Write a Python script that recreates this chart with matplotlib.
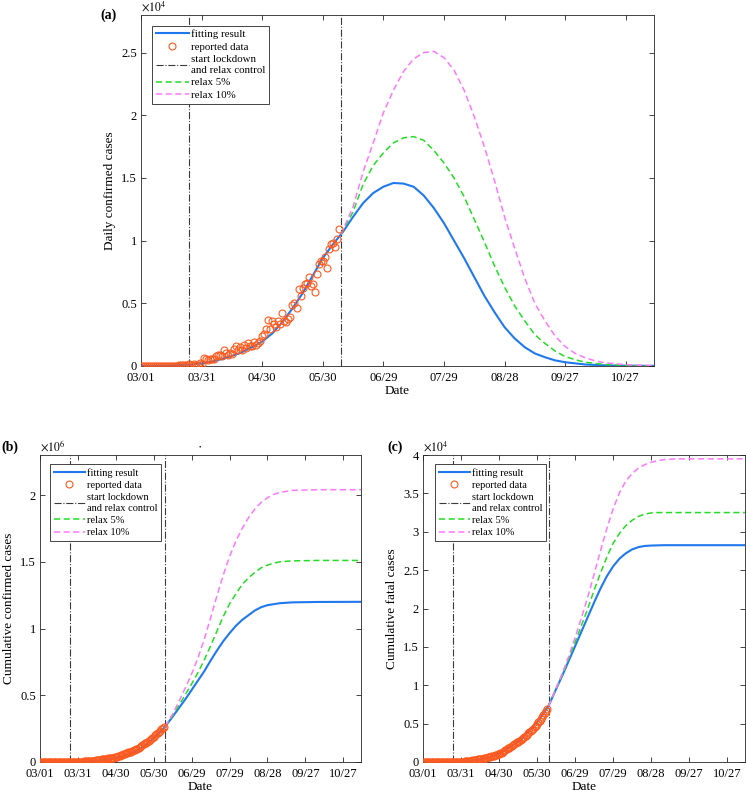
'''India COVID-19 fitting / relax-control scenarios, three panels
'''
import numpy as np
import matplotlib
matplotlib.use('Agg')
import matplotlib.pyplot as plt
from matplotlib.ticker import FuncFormatter

plt.rcParams['font.family'] = ['Liberation Serif', 'DejaVu Serif']
plt.rcParams['mathtext.fontset'] = 'stix'

# day 0 = 03/01
date_ticks = [0, 30, 60, 90, 120, 150, 180, 210, 240]
date_labels = ['03/01', '03/31', '04/30', '05/30', '06/29', '07/29', '08/28', '09/27', '10/27']
lockdown_day = 24
relax_day = 99

# reported daily confirmed cases, days 0..98
report_daily = [0, 2, 1, 22, 2, 1, 3, 5, 4, 13,
                6, 11, 9, 20, 11, 6, 23, 14, 38, 50,
                86, 66, 103, 37, 121, 70, 160, 100, 82, 227,
                146, 601, 545, 478, 524, 573, 565, 813, 871, 854,
                758, 1243, 1031, 886, 1061, 922, 1370, 1580, 1239, 1537,
                1292, 1667, 1408, 1835, 1607, 1568, 1902, 1705, 1801, 1993,
                2396, 2564, 2952, 3656, 2971, 3602, 3344, 3113, 3561, 3390,
                4213, 3604, 3524, 3763, 3942, 4864, 5050, 4630, 6147, 5553,
                6198, 6568, 6629, 7113, 6414, 6535, 5900, 7300, 8100, 8380,
                8380, 8700, 7800, 9300, 9700, 9800, 9500, 10100, 10900]
# reported cumulative deaths, days 0..98
report_fatal = [0, 0, 0, 0, 0, 0, 0, 0, 0, 0, 0,
                1, 2, 2, 2, 2, 3, 3, 4, 4,
                5, 7, 9, 10, 11, 16, 20, 24, 27, 32,
                35, 41, 56, 72, 83, 111, 124, 149, 169, 200,
                242, 273, 308, 331, 353, 392, 420, 452, 488, 519,
                559, 603, 652, 686, 723, 780, 825, 886, 937, 1008,
                1079, 1152, 1223, 1306, 1389, 1583, 1694, 1785, 1889, 1985,
                2109, 2206, 2293, 2415, 2549, 2649, 2752, 2872, 3029, 3163,
                3303, 3435, 3583, 3726, 3867, 4021, 4167, 4337, 4531, 4706,
                4971, 5164, 5394, 5598, 5815, 6075, 6348, 6642, 6929]

# panel (a) curves, values in 1e4
fit_days_a = list(range(0, 215, 5)) + [220, 230, 240, 254]
fit_daily = [0.0, 0.001, 0.003, 0.005, 0.008, 0.012, 0.02, 0.035, 0.055, 0.08,
             0.11, 0.15, 0.195, 0.26, 0.35, 0.46, 0.58, 0.72, 0.86, 0.97,
             1.07, 1.19, 1.30, 1.38, 1.43, 1.46, 1.455, 1.43, 1.36, 1.26,
             1.14, 1.00, 0.86, 0.71, 0.56, 0.43, 0.31, 0.22, 0.15, 0.10,
             0.07, 0.045, 0.03, 0.012, 0.005, 0.002, 0.001]
relax_days_a = [99] + list(range(105, 235, 5)) + [240, 254]
relax5_daily = [1.05, 1.23, 1.45, 1.60, 1.70, 1.78, 1.82, 1.83, 1.80, 1.72,
                1.62, 1.50, 1.35, 1.17, 0.99, 0.80, 0.63, 0.48, 0.36, 0.25,
                0.18, 0.12, 0.075, 0.05, 0.03, 0.02, 0.012, 0.005, 0.001]
relax10_daily = [1.05, 1.27, 1.55, 1.78, 2.02, 2.20, 2.35, 2.45, 2.50, 2.51,
                 2.46, 2.36, 2.20, 1.99, 1.75, 1.48, 1.19, 0.94, 0.70, 0.50,
                 0.36, 0.24, 0.155, 0.10, 0.065, 0.04, 0.025, 0.01, 0.003]

# panels (b), (c) curves
fit_days_bc = [0, 10, 20, 30, 40, 50, 60, 65, 70, 75, 80, 85, 90, 95, 99] + \
    list(range(105, 185, 5)) + [190, 200, 220, 254]
fit_cum = [0.0, 0.0003, 0.001, 0.002, 0.006, 0.014, 0.03, 0.042, 0.058, 0.078,
           0.104, 0.138, 0.18, 0.226, 0.265, 0.34, 0.405, 0.47, 0.54, 0.61,
           0.68, 0.76, 0.835, 0.905, 0.965, 1.02, 1.065, 1.10, 1.135, 1.16,
           1.175, 1.19, 1.196, 1.199, 1.2]  # 1e6
fit_fatal = [0.0, 0.0, 0.001, 0.004, 0.02, 0.05, 0.11, 0.16, 0.21, 0.27,
             0.34, 0.43, 0.52, 0.63, 0.73, 0.95, 1.13, 1.32, 1.51, 1.70,
             1.89, 2.08, 2.26, 2.42, 2.55, 2.65, 2.72, 2.77, 2.80, 2.815,
             2.82, 2.825, 2.825, 2.825, 2.825]  # 1e4
relax_days_bc = [99] + list(range(105, 190, 5)) + [190, 200, 220, 254]
relax5_cum = [0.265, 0.35, 0.425, 0.505, 0.585, 0.67, 0.765, 0.87, 0.98, 1.09,
              1.185, 1.26, 1.33, 1.38, 1.42, 1.455, 1.475, 1.49, 1.50, 1.507,
              1.51, 1.51]
relax10_cum = [0.265, 0.36, 0.455, 0.555, 0.66, 0.78, 0.92, 1.08, 1.245, 1.40,
               1.54, 1.655, 1.75, 1.83, 1.895, 1.945, 1.98, 2.005, 2.02, 2.035,
               2.04, 2.04]
relax5_fatal = [0.73, 0.95, 1.14, 1.35, 1.56, 1.78, 2.00, 2.24, 2.46, 2.67,
                2.85, 2.98, 3.08, 3.15, 3.20, 3.23, 3.245, 3.25, 3.25, 3.25,
                3.25, 3.25]
relax10_fatal = [0.73, 0.96, 1.16, 1.38, 1.62, 1.88, 2.15, 2.45, 2.75, 3.04,
                 3.30, 3.51, 3.66, 3.76, 3.83, 3.875, 3.905, 3.925, 3.94, 3.95,
                 3.95, 3.95]

c_fit = '#1f78ee'
c_data = '#ff5a1e'
c_5 = '#22dd22'
c_10 = '#ff77ff'
c_vline = '#3a3a3a'


def draw_panel(ax, data_days, data, fit_x, fit_y, r_x, r5, r10, scale,
               ymax, yticks, ylabel, expo, leg_x, leg_fs):
    ax.plot(fit_x, np.array(fit_y) * scale, color=c_fit, linewidth=1.5,
            label='fitting result', zorder=3)
    ax.plot(data_days, data, linestyle='none', marker='o', markersize=5,
            markerfacecolor='none', markeredgecolor=c_data, markeredgewidth=0.8,
            label='reported data', zorder=4)
    ax.axvline(lockdown_day, color=c_vline, linestyle='-.', linewidth=0.8,
               label='start lockdown\nand relax control', zorder=2)
    ax.axvline(relax_day, color=c_vline, linestyle='-.', linewidth=0.8, zorder=2)
    ax.plot(r_x, np.array(r5) * scale, color=c_5, linewidth=1.1,
            linestyle=(0, (4, 2.3)), label='relax 5%', zorder=3)
    ax.plot(r_x, np.array(r10) * scale, color=c_10, linewidth=1.1,
            linestyle=(0, (4, 2.3)), label='relax 10%', zorder=3)
    ax.set_xlim(0, 254)
    ax.set_ylim(0, ymax)
    ax.set_xticks(date_ticks)
    ax.set_xticklabels(date_labels)
    ax.set_yticks(yticks)
    ax.yaxis.set_major_formatter(FuncFormatter(lambda v, p: '%g' % (v / scale)))
    ax.tick_params(direction='in', top=True, right=True, length=3.5, width=0.6,
                   labelsize=9, colors='#262626', pad=3)
    ax.tick_params(axis='x', pad=4)
    ax.tick_params(labelcolor='k')
    for s in ax.spines.values():
        s.set_linewidth(0.6)
        s.set_color('#262626')
    ax.set_xlabel('Date', fontsize=9.5, labelpad=1)
    ax.set_ylabel(ylabel, fontsize=9.5, labelpad=4)
    ax.text(0.0, 1.004, r'$\times10^{%d}$' % expo, transform=ax.transAxes,
            fontsize=8.5, ha='left', va='bottom')
    leg = ax.legend(loc='upper left', bbox_to_anchor=(leg_x, 0.97),
                    borderaxespad=0, fontsize=leg_fs, numpoints=1,
                    handlelength=3.0, handletextpad=0.2, labelspacing=0.3,
                    borderpad=0.35, fancybox=False, framealpha=1)
    leg.get_frame().set_edgecolor('#262626')
    leg.get_frame().set_linewidth(0.6)


fig = plt.figure(figsize=(7.46, 7.93), dpi=100)
ax_a = fig.add_axes([141 / 746, 1 - 366 / 793, 513 / 746, 351 / 793])
ax_b = fig.add_axes([40 / 746, 1 - 762 / 793, 321 / 746, 307 / 793])
ax_c = fig.add_axes([423 / 746, 1 - 762 / 793, 322 / 746, 307 / 793])

days_a = np.arange(len(report_daily))
draw_panel(ax_a, days_a, report_daily, fit_days_a, fit_daily, relax_days_a,
           relax5_daily, relax10_daily, 1e4, 2.8e4,
           [0, 0.5e4, 1e4, 1.5e4, 2e4, 2.5e4], 'Daily confirmed cases', 4,
           0.022, 7.8)
draw_panel(ax_b, days_a, np.cumsum(report_daily), fit_days_bc, fit_cum,
           relax_days_bc, relax5_cum, relax10_cum, 1e6, 2.3e6,
           [0, 0.5e6, 1e6, 1.5e6, 2e6], 'Cumulative confirmed cases', 6,
           0.031, 7.5)
draw_panel(ax_c, np.arange(len(report_fatal)), report_fatal, fit_days_bc,
           fit_fatal, relax_days_bc, relax5_fatal, relax10_fatal, 1e4, 4e4,
           [0, 0.5e4, 1e4, 1.5e4, 2e4, 2.5e4, 3e4, 3.5e4, 4e4],
           'Cumulative fatal cases', 4, 0.037, 7.5)

fig.text(100 / 746, 1 - 15 / 793, '(a)', fontsize=10, fontweight='bold',
         ha='left', va='center')
fig.text(1 / 746, 1 - 447 / 793, '(b)', fontsize=10, fontweight='bold',
         ha='left', va='center')
fig.text(387 / 746, 1 - 447 / 793, '(c)', fontsize=10, fontweight='bold',
         ha='left', va='center')
fig.text(200 / 746, 1 - 447 / 793, '\u2022', fontsize=5, ha='center', va='center')

fig.savefig('out.png', dpi=100)
